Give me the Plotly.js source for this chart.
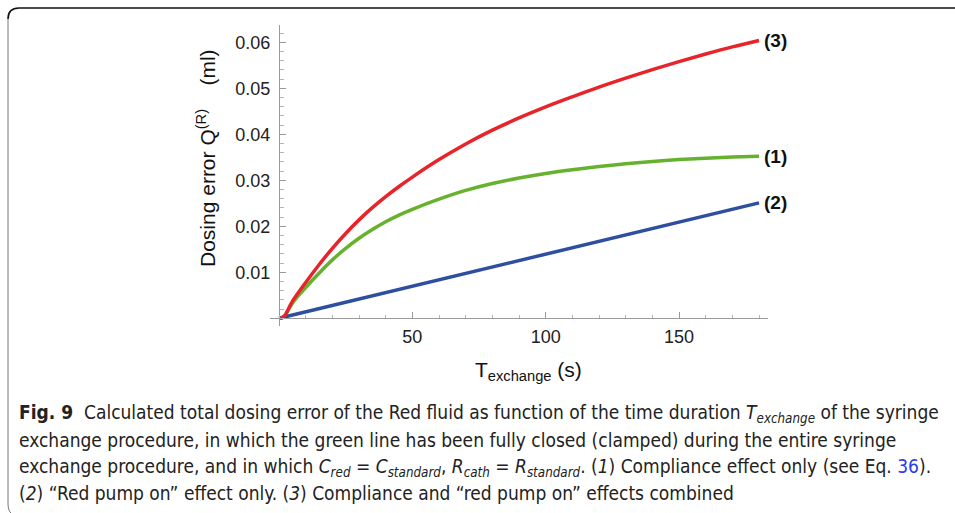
<!DOCTYPE html>
<html>
<head>
<meta charset="utf-8">
<script src="https://cdn.plot.ly/plotly-3.0.1.min.js"></script>
<style>html,body{margin:0;padding:0;background:#fff;}#chart{width:955px;height:513px;}</style>
</head>
<body>
<div id="chart"></div>
<script>
// ---- data ----
const tGreen = [0, 1, 2, 5, 10, 15, 20, 25, 30, 35, 40, 45, 50, 60, 70, 80, 90, 100, 110, 120, 130, 140, 150, 160, 170, 180];
const qCompliance = [0, 0.0001, 0.0004, 0.0033, 0.0067, 0.0098, 0.0127, 0.0152, 0.0174, 0.0193, 0.0210, 0.02245, 0.0237, 0.0259, 0.0278, 0.0293, 0.0305, 0.0315, 0.0323, 0.0330, 0.0336, 0.0341, 0.0345, 0.0348, 0.03505, 0.03525];
const tBlue = [0, 30, 60, 90, 120, 150, 180];
const qPumpOn = [0, 0.0042, 0.0084, 0.0126, 0.0167, 0.0209, 0.0251];
const tRed = [0, 1, 2, 5, 10, 15, 20, 25, 30, 35, 40, 45, 50, 60, 70, 80, 90, 100, 110, 120, 130, 140, 150, 160, 170, 180];
const qCombined = [0, 0.0001, 0.0005, 0.0037, 0.0078, 0.01165, 0.0152, 0.01845, 0.0214, 0.02405, 0.02645, 0.02865, 0.0307, 0.0345, 0.0379, 0.0409, 0.04355, 0.04595, 0.04815, 0.05025, 0.0522, 0.05405, 0.0558, 0.05745, 0.059, 0.0604];
const curveLabels = ["(1)", "(2)", "(3)"];
const xTicks = [50, 100, 150];
const yTicks = [0.01, 0.02, 0.03, 0.04, 0.05, 0.06];
const yTickText = ["0.01", "0.02", "0.03", "0.04", "0.05", "0.06"];

const W = 955, H = 513;
const px = v => v / W, py = v => 1 - v / H;

const traces = [
  {x: tGreen, y: qCompliance, mode: 'lines', line: {color: '#66b22e', width: 3.5, shape: 'spline', smoothing: 1}, hoverinfo: 'skip'},
  {x: tBlue, y: qPumpOn, mode: 'lines', line: {color: '#2e4f9f', width: 3.5}, hoverinfo: 'skip'},
  {x: tRed, y: qCombined, mode: 'lines', line: {color: '#e8242b', width: 3.5, shape: 'spline', smoothing: 1}, hoverinfo: 'skip'}
];

const axisCol = '#9a9a9a';
const sans = "'Liberation Sans', Arimo, Arial, sans-serif";
const tickFont = {family: sans, size: 18, color: '#222'};
const capFont = {family: "'DejaVu Sans Condensed', 'Liberation Sans Narrow', sans-serif", size: 19, color: '#222'};

const ends = [
  {x: tGreen[tGreen.length - 1], y: qCompliance[qCompliance.length - 1], t: curveLabels[0]},
  {x: tBlue[tBlue.length - 1], y: qPumpOn[qPumpOn.length - 1], t: curveLabels[1]},
  {x: tRed[tRed.length - 1], y: qCombined[qCombined.length - 1], t: curveLabels[2]}
];

const annotations = ends.map(e => ({
  x: e.x, y: e.y, xref: 'x', yref: 'y', text: '<b>' + e.t + '</b>', showarrow: false,
  xanchor: 'left', yanchor: 'middle', xshift: 3, font: {family: sans, size: 19, color: '#111'}
}));

annotations.push({
  x: px(206), y: py(158), xref: 'paper', yref: 'paper', textangle: -90, showarrow: false,
  text: 'Dosing error Q<sup>(R)</sup>\u00a0\u00a0\u00a0\u00a0(ml)', xanchor: 'center', yanchor: 'middle',
  font: {family: sans, size: 21, color: '#111'}
});
annotations.push({
  x: px(528), y: py(371), xref: 'paper', yref: 'paper', showarrow: false,
  text: 'T<sub>exchange</sub> (s)', xanchor: 'center', yanchor: 'middle',
  font: {family: sans, size: 21, color: '#111'}
});

const caption = [
  '<b>Fig. 9</b>  Calculated total dosing error of the Red fluid as function of the time duration <i>T<sub>exchange</sub></i> of the syringe',
  'exchange procedure, in which the green line has been fully closed (clamped) during the entire syringe',
  'exchange procedure, and in which <i>C<sub>red</sub></i> = <i>C<sub>standard</sub></i>, <i>R<sub>cath</sub></i> = <i>R<sub>standard</sub></i>. (<i>1</i>) Compliance effect only (see Eq. <span style="color:#2b3cf2">36</span>).',
  '(<i>2</i>) \u201cRed pump on\u201d effect only. (<i>3</i>) Compliance and \u201cred pump on\u201d effects combined'
];
const capY = [413, 440, 467, 493];
caption.forEach((c, i) => annotations.push({
  x: px(17), y: py(capY[i]), xref: 'paper', yref: 'paper', showarrow: false,
  text: c, xanchor: 'left', yanchor: 'middle', align: 'left', font: capFont
}));

const layout = {
  width: W, height: H,
  margin: {l: 0, r: 0, t: 0, b: 0},
  paper_bgcolor: '#fff', plot_bgcolor: 'rgba(0,0,0,0)',
  showlegend: false,
  xaxis: {
    domain: [px(269.7), px(768.1)], range: [-3.5, 183.4],
    anchor: 'free', position: py(318.3),
    showline: true, linecolor: axisCol, linewidth: 1, zeroline: false, showgrid: false,
    tickmode: 'array', tickvals: xTicks, ticks: 'inside', ticklen: 6, tickcolor: axisCol, tickwidth: 1,
    minor: {tickmode: 'linear', tick0: 0, dtick: 10, ticks: 'inside', ticklen: 3.5, tickcolor: '#b5b5b5', tickwidth: 1, showgrid: false},
    tickfont: tickFont, ticklabelstandoff: 2
  },
  yaxis: {
    domain: [py(326), py(25)], range: [-0.00167, 0.06376],
    anchor: 'free', position: px(279),
    showline: true, linecolor: axisCol, linewidth: 1, zeroline: false, showgrid: false,
    tickmode: 'array', tickvals: yTicks, ticktext: yTickText, ticks: 'inside', ticklen: 6, tickcolor: axisCol, tickwidth: 1,
    minor: {tickmode: 'linear', tick0: 0, dtick: 0.002, ticks: 'inside', ticklen: 3.5, tickcolor: '#b5b5b5', tickwidth: 1, showgrid: false},
    tickfont: tickFont, ticklabelstandoff: 5
  },
  annotations: annotations,
  shapes: [
    {type: 'path', xref: 'paper', yref: 'paper', layer: 'above',
     path: `M ${px(955)} ${py(8)} L ${px(19)} ${py(8)} Q ${px(8)} ${py(8)} ${px(8)} ${py(19)}`,
     line: {color: '#111', width: 1.6}},
    {type: 'path', xref: 'paper', yref: 'paper', layer: 'above',
     path: `M ${px(8)} ${py(19)} L ${px(8)} ${py(504)} Q ${px(8)} ${py(513)} ${px(14)} ${py(515)}`,
     line: {color: '#777', width: 1}}
  ]
};

Plotly.newPlot('chart', traces, layout, {displayModeBar: false, staticPlot: true});
</script>
</body>
</html>
